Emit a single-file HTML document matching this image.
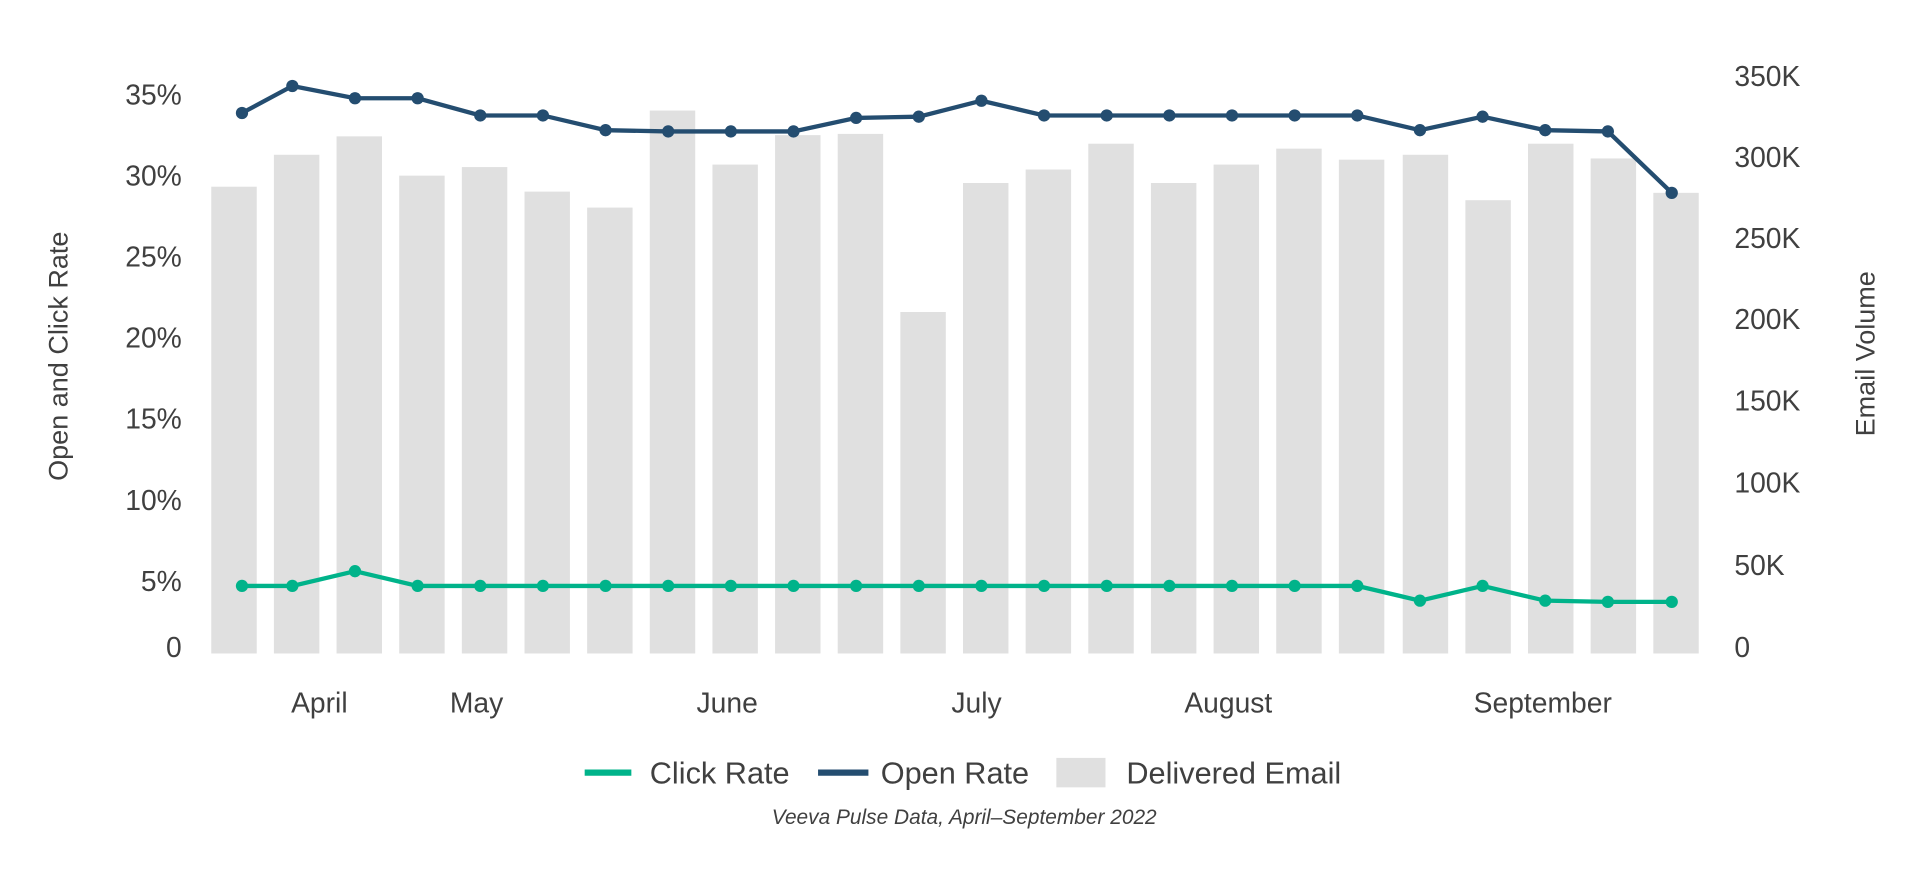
<!DOCTYPE html>
<html><head><meta charset="utf-8"><style>html,body{margin:0;padding:0;background:#fff}svg{display:block}text{font-family:"Liberation Sans",sans-serif;fill:#404040}</style></head>
<body>
<svg width="1926" height="886" viewBox="0 0 1568 721.3" preserveAspectRatio="none" xmlns="http://www.w3.org/2000/svg">
<rect width="1568" height="721.3" fill="#fff"/>
<g fill="#e0e0e0">
<rect x="172" y="152" width="37" height="380"/>
<rect x="223" y="126" width="37" height="406"/>
<rect x="274" y="111" width="37" height="421"/>
<rect x="325" y="143" width="37" height="389"/>
<rect x="376" y="136" width="37" height="396"/>
<rect x="427" y="156" width="37" height="376"/>
<rect x="478" y="169" width="37" height="363"/>
<rect x="529" y="90" width="37" height="442"/>
<rect x="580" y="134" width="37" height="398"/>
<rect x="631" y="110" width="37" height="422"/>
<rect x="682" y="109" width="37" height="423"/>
<rect x="733" y="254" width="37" height="278"/>
<rect x="784" y="149" width="37" height="383"/>
<rect x="835" y="138" width="37" height="394"/>
<rect x="886" y="117" width="37" height="415"/>
<rect x="937" y="149" width="37" height="383"/>
<rect x="988" y="134" width="37" height="398"/>
<rect x="1039" y="121" width="37" height="411"/>
<rect x="1090" y="130" width="37" height="402"/>
<rect x="1142" y="126" width="37" height="406"/>
<rect x="1193" y="163" width="37" height="369"/>
<rect x="1244" y="117" width="37" height="415"/>
<rect x="1295" y="129" width="37" height="403"/>
<rect x="1346" y="157" width="37" height="375"/>
</g>
<g font-size="23" text-anchor="end">
<text x="148" y="85">35%</text><text x="148" y="151">30%</text><text x="148" y="217">25%</text><text x="148" y="283">20%</text><text x="148" y="349">15%</text><text x="148" y="415">10%</text><text x="148" y="481">5%</text><text x="148" y="535">0</text>
</g>
<g font-size="23" text-anchor="start">
<text x="1412" y="70">350K</text><text x="1412" y="136">300K</text><text x="1412" y="202">250K</text><text x="1412" y="268">200K</text><text x="1412" y="334">150K</text><text x="1412" y="401">100K</text><text x="1412" y="468">50K</text><text x="1412" y="535">0</text>
</g>
<text font-size="22" transform="translate(55,290) rotate(-90)" text-anchor="middle">Open and Click Rate</text>
<text font-size="22" transform="translate(1526,288) rotate(-90)" text-anchor="middle">Email Volume</text>
<g font-size="23" text-anchor="middle">
<text x="260" y="580">April</text><text x="388" y="580">May</text><text x="592" y="580">June</text><text x="795" y="580">July</text><text x="1000" y="580">August</text><text x="1256" y="580">September</text>
</g>
<polyline fill="none" stroke="#244d70" stroke-width="3.5" points="197,92 238,70 289,80 340,80 391,94 442,94 493,106 544,107 595,107 646,107 697,96 748,95 799,82 850,94 901,94 952,94 1003,94 1054,94 1105,94 1156,106 1207,95 1258,106 1309,107 1361,157"/>
<g fill="#244d70">
<circle cx="197" cy="92" r="5"/><circle cx="238" cy="70" r="5"/><circle cx="289" cy="80" r="5"/><circle cx="340" cy="80" r="5"/><circle cx="391" cy="94" r="5"/><circle cx="442" cy="94" r="5"/><circle cx="493" cy="106" r="5"/><circle cx="544" cy="107" r="5"/><circle cx="595" cy="107" r="5"/><circle cx="646" cy="107" r="5"/><circle cx="697" cy="96" r="5"/><circle cx="748" cy="95" r="5"/><circle cx="799" cy="82" r="5"/><circle cx="850" cy="94" r="5"/><circle cx="901" cy="94" r="5"/><circle cx="952" cy="94" r="5"/><circle cx="1003" cy="94" r="5"/><circle cx="1054" cy="94" r="5"/><circle cx="1105" cy="94" r="5"/><circle cx="1156" cy="106" r="5"/><circle cx="1207" cy="95" r="5"/><circle cx="1258" cy="106" r="5"/><circle cx="1309" cy="107" r="5"/><circle cx="1361" cy="157" r="5"/>
</g>
<polyline fill="none" stroke="#00b38a" stroke-width="3.5" points="197,477 238,477 289,465 340,477 391,477 442,477 493,477 544,477 595,477 646,477 697,477 748,477 799,477 850,477 901,477 952,477 1003,477 1054,477 1105,477 1156,489 1207,477 1258,489 1309,490 1361,490"/>
<g fill="#00b38a">
<circle cx="197" cy="477" r="5"/><circle cx="238" cy="477" r="5"/><circle cx="289" cy="465" r="5"/><circle cx="340" cy="477" r="5"/><circle cx="391" cy="477" r="5"/><circle cx="442" cy="477" r="5"/><circle cx="493" cy="477" r="5"/><circle cx="544" cy="477" r="5"/><circle cx="595" cy="477" r="5"/><circle cx="646" cy="477" r="5"/><circle cx="697" cy="477" r="5"/><circle cx="748" cy="477" r="5"/><circle cx="799" cy="477" r="5"/><circle cx="850" cy="477" r="5"/><circle cx="901" cy="477" r="5"/><circle cx="952" cy="477" r="5"/><circle cx="1003" cy="477" r="5"/><circle cx="1054" cy="477" r="5"/><circle cx="1105" cy="477" r="5"/><circle cx="1156" cy="489" r="5"/><circle cx="1207" cy="477" r="5"/><circle cx="1258" cy="489" r="5"/><circle cx="1309" cy="490" r="5"/><circle cx="1361" cy="490" r="5"/>
</g>
<line x1="476" y1="629" x2="514" y2="629" stroke="#00b38a" stroke-width="5"/>
<text x="529" y="638" font-size="25">Click Rate</text>
<line x1="666" y1="629" x2="707" y2="629" stroke="#244d70" stroke-width="5"/>
<text x="717" y="638" font-size="25">Open Rate</text>
<rect x="860" y="617" width="40" height="24" fill="#e0e0e0"/>
<text x="917" y="638" font-size="25">Delivered Email</text>
<text x="785" y="671" font-size="17" font-style="italic" text-anchor="middle">Veeva Pulse Data, April–September 2022</text>
</svg>
</body></html>
